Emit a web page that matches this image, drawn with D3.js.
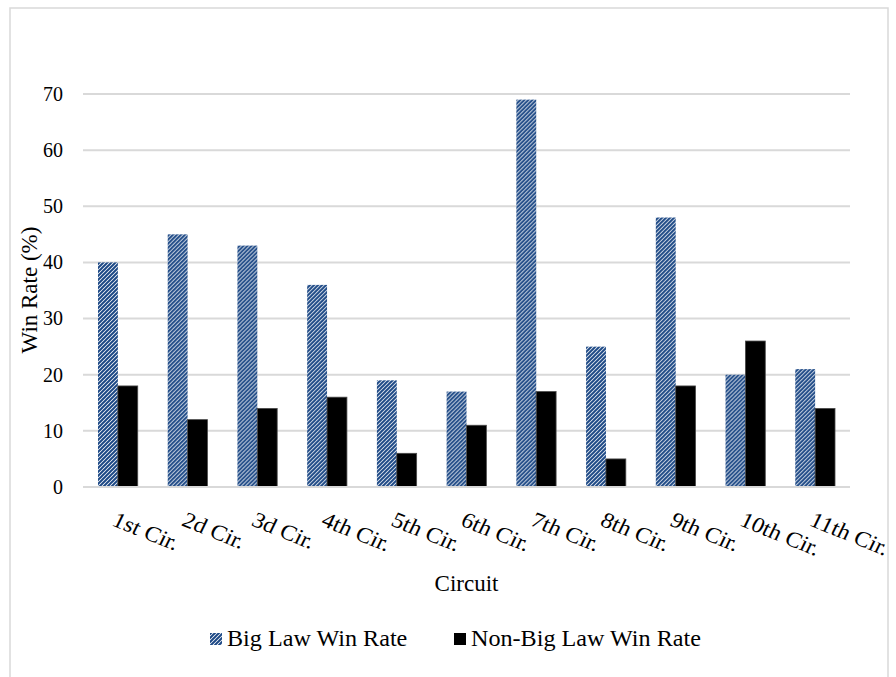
<!DOCTYPE html>
<html>
<head>
<meta charset="utf-8">
<script src="https://cdn.jsdelivr.net/npm/d3@7"></script>
<style>
  html, body { margin: 0; padding: 0; background: #fff; }
  svg { display: block; }
</style>
</head>
<body>
<svg id="chart" width="896" height="677"></svg>
<script>
// Win rates by federal circuit
const circuits = ["1st Cir.", "2d Cir.", "3d Cir.", "4th Cir.", "5th Cir.", "6th Cir.",
                  "7th Cir.", "8th Cir.", "9th Cir.", "10th Cir.", "11th Cir."];
const bigLaw    = [40, 45, 43, 36, 19, 17, 69, 25, 48, 20, 21];
const nonBigLaw = [18, 12, 14, 16, 6, 11, 17, 5, 18, 26, 14];
const seriesNames = ["Big Law Win Rate", "Non-Big Law Win Rate"];
const yTicks = [0, 10, 20, 30, 40, 50, 60, 70];

const rows = circuits.map((c, i) => ({ circuit: c, values: [bigLaw[i], nonBigLaw[i]] }));

const FONT = "'Liberation Serif', Tinos, 'Times New Roman', 'DejaVu Serif', serif";
const svg = d3.select("#chart").attr("font-family", FONT);
const H = 677;
const plot = { left: 83, right: 850, top: 94, bottom: 487 };
const navy = "#1c4885";
const grid = "#d9d9d9";

// hatch fill: wide upward diagonal stripes
const defs = svg.append("defs");
const pat = defs.append("pattern")
  .attr("id", "hatch").attr("patternUnits", "userSpaceOnUse")
  .attr("width", 4).attr("height", 4);
pat.append("rect").attr("width", 4).attr("height", 4).attr("fill", "#fff");
pat.append("path").attr("d", "M-1,1 l2,-2 M0,4 l4,-4 M3,5 l2,-2")
  .attr("stroke", navy).attr("stroke-width", 2);

// chart area frame
svg.append("rect")
  .attr("x", 10).attr("y", 8).attr("width", 878).attr("height", H)
  .attr("fill", "none").attr("stroke", grid).attr("stroke-width", 1.5);

const x0 = d3.scaleBand().domain(circuits)
  .range([plot.left, plot.right]).paddingInner(0.43).paddingOuter(0.215);
const x1 = d3.scaleBand().domain([0, 1]).range([0, x0.bandwidth()]);
const y = d3.scaleLinear().domain([0, 70]).range([plot.bottom, plot.top]);

// gridlines
svg.append("g").selectAll("line").data(yTicks.filter(t => t > 0)).join("line")
  .attr("x1", plot.left).attr("x2", plot.right)
  .attr("y1", d => y(d)).attr("y2", d => y(d))
  .attr("stroke", grid).attr("stroke-width", 2);

// y tick labels
const yAxis = d3.axisLeft(y).tickValues(yTicks).tickSize(0).tickPadding(20);
const gy = svg.append("g").attr("transform", `translate(${plot.left},0)`).call(yAxis);
gy.attr("font-family", FONT).attr("font-size", 20);
gy.select(".domain").remove();
gy.selectAll("text").attr("fill", "#000");

// bars
const groups = svg.append("g").selectAll("g").data(rows).join("g")
  .attr("transform", d => `translate(${x0(d.circuit)},0)`);
groups.selectAll("rect").data(d => d.values.map((v, k) => ({ k, v }))).join("rect")
  .attr("x", d => x1(d.k))
  .attr("width", x1.bandwidth())
  .attr("y", d => y(d.v))
  .attr("height", d => y(0) - y(d.v))
  .attr("fill", d => d.k === 0 ? "url(#hatch)" : "#000")
  .attr("stroke", d => d.k === 0 ? "none" : "#4a4a4a")
  .attr("stroke-width", 0.8);

// x axis baseline
svg.append("line")
  .attr("x1", plot.left).attr("x2", plot.right)
  .attr("y1", y(0)).attr("y2", y(0))
  .attr("stroke", grid).attr("stroke-width", 2);

// slanted category labels (slightly widened glyphs)
svg.append("g").attr("font-size", 22).selectAll("text").data(circuits).join("text")
  .attr("transform", d => `translate(${x0(d) + x0.bandwidth() / 2 - 7},525) scale(1.1,1) rotate(24)`)
  .attr("text-anchor", "start")
  .text(d => d);

// axis titles
svg.append("text")
  .attr("x", (plot.left + plot.right) / 2).attr("y", 591)
  .attr("text-anchor", "middle").attr("font-size", 23)
  .text("Circuit");
svg.append("text")
  .attr("transform", "translate(37,290) rotate(-90)")
  .attr("text-anchor", "middle").attr("font-size", 23)
  .text("Win Rate (%)");

// legend
const legend = svg.append("g").attr("font-size", 23);
const legendItems = [
  { name: seriesNames[0], fill: "url(#hatch)", x: 210 },
  { name: seriesNames[1], fill: "#000", x: 454 }
];
legendItems.forEach(it => {
  legend.append("rect").attr("x", it.x).attr("y", 633)
    .attr("width", 12).attr("height", 12).attr("fill", it.fill);
  legend.append("text").attr("x", it.x + 17).attr("y", 646)
    .attr("transform", `translate(${(it.x + 17) * -0.05},0) scale(1.05,1)`)
    .text(it.name);
});
</script>
</body>
</html>
